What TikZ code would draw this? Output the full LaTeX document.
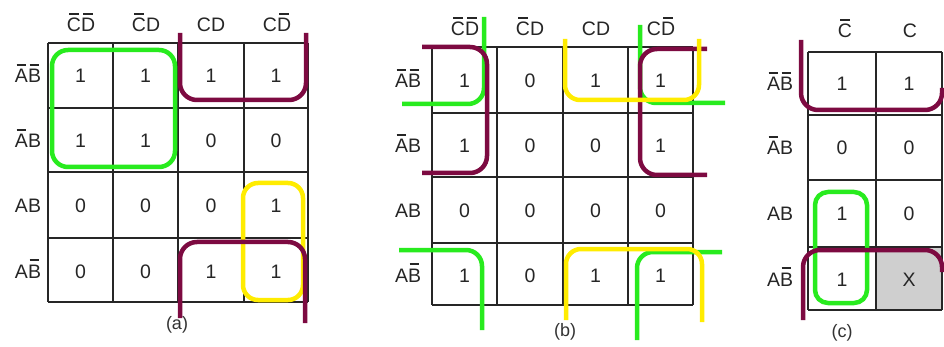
\documentclass[tikz,border=0pt]{standalone}
\usepackage{fontspec}
\setmainfont{Liberation Sans}
\definecolor{kgreen}{RGB}{40,235,30}
\definecolor{kmaroon}{RGB}{125,10,65}
\definecolor{kyellow}{RGB}{255,236,0}
\newcommand\nb[1]{{\ooalign{#1\cr\hidewidth\rule[0.88em]{0.5em}{0.07em}\hidewidth\cr}}}
\tikzset{
  txt/.style={font=\fontsize{19.5}{22}\selectfont, text=black!85, inner sep=0pt, anchor=base},
  captxt/.style={font=\fontsize{18}{21}\selectfont, text=black!80, inner sep=0pt},
  gridline/.style={draw=black!85, line width=1.3pt},
  gloop/.style={draw=kgreen, line width=4.5pt, rounded corners=16pt},
  mloop/.style={draw=kmaroon, line width=4.5pt, rounded corners=17pt},
  yloop/.style={draw=kyellow, line width=4.5pt, rounded corners=15pt},
}
\begin{document}
\begin{tikzpicture}[x=1pt,y=-1pt]
\useasboundingbox (0,0) rectangle (944,347);
\fill[white] (0,0) rectangle (944,347);

% ---------------- map (a) ----------------
\foreach \x in {48,113,178,244,308} \draw[gridline] (\x,43) -- (\x,302);
\foreach \y in {43,108,172,238,302} \draw[gridline] (48,\y) -- (308,\y);
\node[txt] (ah1) at (81,32) {\nb{C}\nb{D}};
\node[txt] (ah2) at (146,32) {\nb{C}D};
\node[txt] (ah3) at (211,32) {CD};
\node[txt] (ah4) at (277,32) {C\nb{D}};
\node[txt] (ar1) at (28,83) {\nb{A}\nb{B}};
\node[txt] (ar2) at (28,148) {\nb{A}B};
\node[txt] (ar3) at (28,213) {AB};
\node[txt] (ar4) at (28,278) {A\nb{B}};
\foreach \y/\r/\va/\vb/\vc/\vd in {83/1/1/1/1/1, 148/2/1/1/0/0, 213/3/0/0/0/1, 278/4/0/0/1/1} {
  \node[txt] (a\r c1) at (80.5,\y) {\va};
  \node[txt] (a\r c2) at (145.5,\y) {\vb};
  \node[txt] (a\r c3) at (211,\y) {\vc};
  \node[txt] (a\r c4) at (276,\y) {\vd};
}
\node[captxt] (acap) at (177,325) {(a)};
\draw[gloop] (52,50) rectangle (175,167);
\draw[yloop] (243,183) rectangle (303,300);
\draw[mloop] (180,33) -- (180,100) -- (306,100) -- (306,33);
\draw[mloop] (180,318) -- (180,242) -- (305,242) -- (305,323);

% ---------------- map (b) ----------------
\foreach \x in {432,497,563,628,693} \draw[gridline] (\x,47) -- (\x,305);
\foreach \y in {47,113,177,243,305} \draw[gridline] (432,\y) -- (693,\y);
\node[txt] (bh1) at (465,36) {\nb{C}\nb{D}};
\node[txt] (bh2) at (530,36) {\nb{C}D};
\node[txt] (bh3) at (596,36) {CD};
\node[txt] (bh4) at (661,36) {C\nb{D}};
\node[txt] (br1) at (408,88) {\nb{A}\nb{B}};
\node[txt] (br2) at (408,153) {\nb{A}B};
\node[txt] (br3) at (408,218) {AB};
\node[txt] (br4) at (408,282) {A\nb{B}};
\foreach \y/\r/\va/\vb/\vc/\vd in {88/1/1/0/1/1, 153/2/1/0/0/1, 218/3/0/0/0/0, 282/4/1/0/1/1} {
  \node[txt] (b\r c1) at (464.5,\y) {\va};
  \node[txt] (b\r c2) at (530,\y) {\vb};
  \node[txt] (b\r c3) at (595.5,\y) {\vc};
  \node[txt] (b\r c4) at (660.5,\y) {\vd};
}
\node[captxt] (bcap) at (565,332) {(b)};
\draw[gloop] (484,17) -- (484,104) -- (402,104);
\draw[gloop] (640,25) -- (640,103) -- (725,103);
\draw[gloop] (399,250) -- (482,250) -- (482,330);
\draw[gloop] (722,252) -- (637,252) -- (637,340);
\draw[mloop] (422,47) -- (487,47) -- (487,173) -- (422,173);
\draw[mloop] (707,49) -- (640,49) -- (640,175) -- (707,175);
\draw[yloop] (565,39) -- (565,100) -- (699,100) -- (699,39);
\draw[yloop] (566,320) -- (566,249) -- (702,249) -- (702,322);

% ---------------- map (c) ----------------
\fill[gray!38] (876,247) rectangle (942,310);
\foreach \x in {808,876,942} \draw[gridline] (\x,52) -- (\x,310);
\foreach \y in {52,115,180,247,310} \draw[gridline] (808,\y) -- (942,\y);
\node[txt] (ch1) at (845,38) {\nb{C}};
\node[txt] (ch2) at (910,38) {C};
\node[txt] (cr1) at (780,91) {\nb{A}\nb{B}};
\node[txt] (cr2) at (780,155) {\nb{A}B};
\node[txt] (cr3) at (780,221) {AB};
\node[txt] (cr4) at (780,286) {A\nb{B}};
\foreach \y/\r/\va/\vb in {91/1/1/1, 155/2/0/0, 221/3/1/0, 286/4/1/X} {
  \node[txt] (c\r c1) at (842,\y) {\va};
  \node[txt] (c\r c2) at (909,\y) {\vb};
}
\node[captxt] (ccap) at (842,333) {(c)};
\draw[gloop, rounded corners=13pt] (815,192) rectangle (867,303);
\draw[mloop] (801,40) -- (801,110) -- (942,110) -- (942,88);
\draw[mloop] (803,320) -- (803,250) -- (942,250) -- (942,272);
\end{tikzpicture}
\end{document}
